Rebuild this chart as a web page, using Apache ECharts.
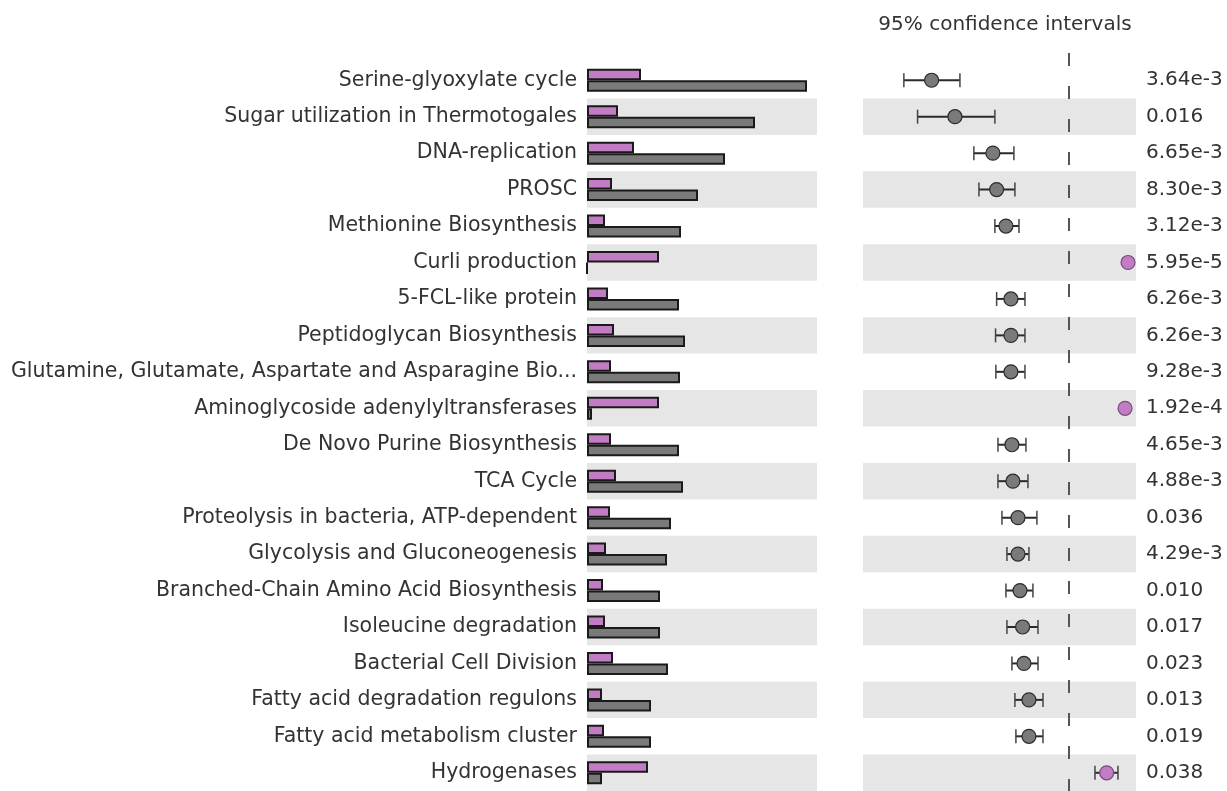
<!DOCTYPE html>
<html lang="en">
<head>
    <meta charset="UTF-8">
    <title>Extended error bar</title>
    <script src="https://cdn.jsdelivr.net/npm/echarts@6/dist/echarts.min.js"></script>
    <style>
        body { margin: 0; padding: 0; background: #fff; }
        #main { width: 1227px; height: 791px; }
    </style>
</head>
<body>
<div id="main"></div>
<script type="text/javascript">
    // features, top to bottom
    var features = [
        'Serine-glyoxylate cycle',
        'Sugar utilization in Thermotogales',
        'DNA-replication',
        'PROSC',
        'Methionine Biosynthesis',
        'Curli production',
        '5-FCL-like protein',
        'Peptidoglycan Biosynthesis',
        'Glutamine, Glutamate, Aspartate and Asparagine Bio...',
        'Aminoglycoside adenylyltransferases',
        'De Novo Purine Biosynthesis',
        'TCA Cycle',
        'Proteolysis in bacteria, ATP-dependent',
        'Glycolysis and Gluconeogenesis',
        'Branched-Chain Amino Acid Biosynthesis',
        'Isoleucine degradation',
        'Bacterial Cell Division',
        'Fatty acid degradation regulons',
        'Fatty acid metabolism cluster',
        'Hydrogenases'
    ];
    // mean proportions (%)
    var groupPurple = [5.4, 3.1, 4.7, 2.5, 1.8, 7.2, 2.1, 2.7, 2.4, 7.2, 2.4, 2.9, 2.3, 1.9, 1.6, 1.8, 2.6, 1.5, 1.7, 6.1];
    var groupGray = [22.0, 16.8, 13.8, 11.1, 9.4, 0.0, 9.2, 9.8, 9.3, 0.5, 9.2, 9.6, 8.4, 8.0, 7.3, 7.3, 8.1, 6.4, 6.4, 1.5];
    // difference in mean proportions and 95% CI
    var diffMean = [-16.54, -13.73, -9.16, -8.71, -7.59, 7.11, -6.99, -6.99, -6.99, 6.75, -6.87, -6.75, -6.14, -6.14, -5.90, -5.58, -5.42, -4.82, -4.82, 4.54];
    var ciLow = [-19.88, -18.23, -11.45, -10.84, -8.92, 7.11, -8.71, -8.84, -8.80, 6.75, -8.55, -8.55, -8.07, -7.47, -7.59, -7.47, -6.87, -6.51, -6.39, 3.13];
    var ciHigh = [-13.13, -8.92, -6.63, -6.51, -6.02, 7.11, -5.30, -5.30, -5.30, 6.75, -5.18, -4.94, -3.86, -4.82, -4.34, -3.73, -3.73, -3.13, -3.13, 5.90];
    var pValues = ['3.64e-3', '0.016', '6.65e-3', '8.30e-3', '3.12e-3', '5.95e-5', '6.26e-3', '6.26e-3', '9.28e-3', '1.92e-4',
        '4.65e-3', '4.88e-3', '0.036', '4.29e-3', '0.010', '0.017', '0.023', '0.013', '0.019', '0.038'];

    var PURPLE = '#c27cc4';
    var GRAY = '#7a7a7a';
    var BAND = '#e6e6e6';
    var TEXT = '#333333';
    var FONT = 'DejaVu Sans';

    var myChart = echarts.init(document.getElementById('main'));

    var errData = [];
    var pointData = [];
    for (var i = 0; i < features.length; i++) {
        errData.push([i, ciLow[i], ciHigh[i]]);
        pointData.push({
            value: [diffMean[i], i],
            itemStyle: diffMean[i] > 0 ? { color: PURPLE, borderColor: '#7a4a80' } : { color: GRAY }
        });
    }

    var option = {
        backgroundColor: '#fff',
        animation: false,
        textStyle: { fontFamily: FONT },
        title: {
            text: '95% confidence intervals',
            left: 1000,
            top: 10,
            textAlign: 'center',
            textStyle: { fontFamily: FONT, fontSize: 20, fontWeight: 'normal', color: TEXT }
        },
        grid: [
            { left: 587, top: 62, width: 230, height: 734 },
            { left: 863, top: 62, width: 273, height: 734 }
        ],
        xAxis: [{
            gridIndex: 0, type: 'value', min: 0, max: 23,
            show: false
        }, {
            gridIndex: 1, type: 'value', min: -24.8, max: 8.07,
            show: false
        }],
        yAxis: [{
            gridIndex: 0, type: 'category', data: features, inverse: true,
            axisLine: { show: false }, axisTick: { show: false },
            axisLabel: { fontFamily: FONT, fontSize: 20.5, color: TEXT, margin: 10 },
            splitArea: { show: true, areaStyle: { color: ['rgba(0,0,0,0)', BAND] } }
        }, {
            gridIndex: 1, type: 'category', data: pValues, inverse: true, position: 'right',
            axisLine: { show: false }, axisTick: { show: false },
            axisLabel: { fontFamily: FONT, fontSize: 20, color: TEXT, margin: 10 },
            splitArea: { show: true, areaStyle: { color: ['rgba(0,0,0,0)', BAND] } }
        }],
        series: [{
            name: 'purple', type: 'bar', xAxisIndex: 0, yAxisIndex: 0,
            data: groupPurple, barWidth: 11.5, barGap: '0%',
            itemStyle: { color: PURPLE, borderColor: '#1a1a1a', borderWidth: 2 }
        }, {
            name: 'gray', type: 'bar', xAxisIndex: 0, yAxisIndex: 0,
            data: groupGray, barWidth: 11.5, barGap: '0%',
            itemStyle: { color: GRAY, borderColor: '#1a1a1a', borderWidth: 2 }
        }, {
            name: 'zero', type: 'line', xAxisIndex: 1, yAxisIndex: 1,
            data: [],
            markLine: {
                silent: true, symbol: 'none', label: { show: false },
                lineStyle: { color: '#555', width: 2, type: [13, 20] },
                data: [[{ coord: [0, 0], y: 53 }, { coord: [0, 19], y: 800 }]]
            }
        }, {
            name: 'ci', type: 'custom', xAxisIndex: 1, yAxisIndex: 1,
            data: errData, z: 3,
            renderItem: function (params, api) {
                var y = api.value(0);
                var lo = api.coord([api.value(1), y]);
                var hi = api.coord([api.value(2), y]);
                if (Math.abs(hi[0] - lo[0]) < 1) return null;
                var cap = 7;
                var st = { stroke: '#2a2a2a', lineWidth: 2 };
                var capSt = { stroke: '#444', lineWidth: 1.5 };
                return {
                    type: 'group',
                    children: [
                        { type: 'line', shape: { x1: lo[0], y1: lo[1], x2: hi[0], y2: hi[1] }, style: st },
                        { type: 'line', shape: { x1: lo[0], y1: lo[1] - cap, x2: lo[0], y2: lo[1] + cap }, style: capSt },
                        { type: 'line', shape: { x1: hi[0], y1: hi[1] - cap, x2: hi[0], y2: hi[1] + cap }, style: capSt }
                    ]
                };
            }
        }, {
            name: 'mean', type: 'scatter', xAxisIndex: 1, yAxisIndex: 1,
            data: pointData, symbolSize: 14, z: 4,
            itemStyle: { opacity: 1, borderColor: '#2a2a2a', borderWidth: 1.2 }
        }]
    };
    myChart.setOption(option);
</script>
</body>
</html>
